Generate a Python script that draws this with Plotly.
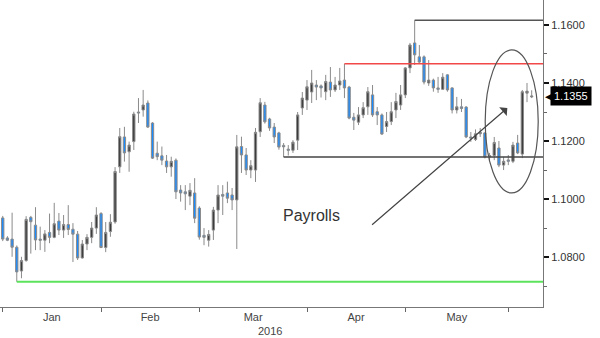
import plotly.graph_objects as go
import pandas as pd

# ---------------- data ----------------
dates = pd.bdate_range("2015-12-31", "2016-06-07")  # weekdays (114 bars)

opens = [1.0935, 1.0866, 1.0862, 1.0834, 1.0752, 1.0788, 1.0937, 1.0910, 1.0862, 1.0858,
         1.0885, 1.0868, 1.0924, 1.0893, 1.0912, 1.0896, 1.0879, 1.0797, 1.0845, 1.0868,
         1.0900, 1.0950, 1.0833, 1.0888, 1.0921, 1.1111, 1.1214, 1.1163, 1.1198, 1.1300,
         1.1307, 1.1331, 1.1262, 1.1158, 1.1149, 1.1131, 1.1111, 1.1134, 1.1031, 1.1025,
         1.1010, 1.1021, 1.0969, 1.0875, 1.0858, 1.0893, 1.0962, 1.1016, 1.1021, 1.1014,
         1.0997, 1.1181, 1.1152, 1.1100, 1.1100, 1.1232, 1.1324, 1.1276, 1.1248, 1.1228,
         1.1185, 1.1172, 1.1168, 1.1203, 1.1314, 1.1341, 1.1369, 1.1393, 1.1390, 1.1370,
         1.1403, 1.1376, 1.1393, 1.1410, 1.1386, 1.1282, 1.1265, 1.1290, 1.1318, 1.1359,
         1.1301, 1.1290, 1.1250, 1.1267, 1.1307, 1.1324, 1.1359, 1.1452, 1.1538, 1.1490,
         1.1490, 1.1400, 1.1410, 1.1383, 1.1378, 1.1428, 1.1383, 1.1307, 1.1318, 1.1317,
         1.1214, 1.1205, 1.1225, 1.1228, 1.1145, 1.1150, 1.1176, 1.1117, 1.1135, 1.1130,
         1.1193, 1.1155, 1.1365, 1.1352]
highs = [1.0942, 1.0872, 1.0953, 1.0840, 1.0801, 1.0941, 1.0942, 1.0972, 1.0905, 1.0893,
         1.0950, 1.0987, 1.0952, 1.0945, 1.0979, 1.0917, 1.0890, 1.0859, 1.0879, 1.0921,
         1.0972, 1.0955, 1.0921, 1.0948, 1.1110, 1.1245, 1.1249, 1.1198, 1.1301, 1.1348,
         1.1376, 1.1340, 1.1265, 1.1198, 1.1181, 1.1152, 1.1146, 1.1140, 1.1048, 1.1048,
         1.1055, 1.1072, 1.0975, 1.0900, 1.0893, 1.0973, 1.1048, 1.1048, 1.1060, 1.1038,
         1.1221, 1.1215, 1.1176, 1.1134, 1.1245, 1.1348, 1.1335, 1.1280, 1.1262, 1.1232,
         1.1193, 1.1186, 1.1203, 1.1300, 1.1369, 1.1410, 1.1445, 1.1410, 1.1395, 1.1428,
         1.1455, 1.1421, 1.1452, 1.1466, 1.1390, 1.1297, 1.1317, 1.1334, 1.1386, 1.1393,
         1.1317, 1.1295, 1.1300, 1.1334, 1.1366, 1.1393, 1.1455, 1.1538, 1.1616, 1.1531,
         1.1495, 1.1479, 1.1415, 1.1421, 1.1434, 1.1430, 1.1385, 1.1352, 1.1345, 1.1320,
         1.1231, 1.1240, 1.1245, 1.1230, 1.1159, 1.1214, 1.1200, 1.1145, 1.1152, 1.1197,
         1.1221, 1.1376, 1.1400, 1.1375]
lows = [1.0855, 1.0855, 1.0801, 1.0715, 1.0727, 1.0784, 1.0812, 1.0824, 1.0824, 1.0818,
        1.0848, 1.0865, 1.0876, 1.0866, 1.0876, 1.0783, 1.0790, 1.0795, 1.0824, 1.0848,
        1.0880, 1.0831, 1.0817, 1.0870, 1.0915, 1.1090, 1.1129, 1.1094, 1.1169, 1.1262,
        1.1284, 1.1245, 1.1138, 1.1134, 1.1117, 1.1090, 1.1077, 1.1000, 1.0991, 1.0962,
        1.0979, 1.0917, 1.0860, 1.0841, 1.0836, 1.0859, 1.0917, 1.0945, 1.0986, 1.0962,
        1.0828, 1.1090, 1.1083, 1.1072, 1.1059, 1.1214, 1.1260, 1.1235, 1.1193, 1.1170,
        1.1145, 1.1150, 1.1159, 1.1169, 1.1290, 1.1307, 1.1331, 1.1341, 1.1350, 1.1341,
        1.1352, 1.1369, 1.1376, 1.1348, 1.1275, 1.1238, 1.1255, 1.1279, 1.1290, 1.1283,
        1.1255, 1.1221, 1.1231, 1.1255, 1.1279, 1.1307, 1.1348, 1.1434, 1.1462, 1.1469,
        1.1395, 1.1390, 1.1370, 1.1366, 1.1376, 1.1370, 1.1295, 1.1295, 1.1300, 1.1210,
        1.1197, 1.1200, 1.1214, 1.1140, 1.1134, 1.1134, 1.1110, 1.1100, 1.1117, 1.1124,
        1.1155, 1.1141, 1.1334, 1.1348]
closes = [1.0862, 1.0858, 1.0834, 1.0749, 1.0788, 1.0930, 1.0922, 1.0859, 1.0858, 1.0880,
          1.0868, 1.0915, 1.0893, 1.0912, 1.0895, 1.0879, 1.0797, 1.0845, 1.0868, 1.0900,
          1.0945, 1.0833, 1.0885, 1.0920, 1.1095, 1.1215, 1.1159, 1.1186, 1.1293, 1.1297,
          1.1324, 1.1248, 1.1141, 1.1146, 1.1134, 1.1111, 1.1130, 1.1025, 1.1021, 1.1018,
          1.1030, 1.0934, 1.0869, 1.0868, 1.0878, 1.0962, 1.1014, 1.1010, 1.1003, 1.0997,
          1.1180, 1.1152, 1.1100, 1.1115, 1.1230, 1.1332, 1.1266, 1.1245, 1.1214, 1.1179,
          1.1180, 1.1168, 1.1196, 1.1290, 1.1348, 1.1387, 1.1400, 1.1386, 1.1383, 1.1405,
          1.1376, 1.1393, 1.1407, 1.1383, 1.1279, 1.1272, 1.1290, 1.1315, 1.1370, 1.1290,
          1.1290, 1.1224, 1.1267, 1.1301, 1.1336, 1.1359, 1.1452, 1.1531, 1.1497, 1.1472,
          1.1403, 1.1410, 1.1383, 1.1378, 1.1420, 1.1376, 1.1307, 1.1318, 1.1312, 1.1214,
          1.1210, 1.1225, 1.1230, 1.1145, 1.1150, 1.1195, 1.1117, 1.1130, 1.1130, 1.1186,
          1.1159, 1.1370, 1.1372, 1.1355]

# reference levels drawn on the chart: (start date, level, colour)
levels = [("2016-01-05", 1.0715, "#5be35b"),
          ("2016-03-24", 1.1145, "#444444"),
          ("2016-04-12", 1.1466, "#f24848"),
          ("2016-05-03", 1.1616, "#555555")]
last_price = 1.1355
y_ticks = [1.08, 1.10, 1.12, 1.14, 1.16]
y_minor = [1.07, 1.09, 1.11, 1.13, 1.15]
month_names = ["Jan", "Feb", "Mar", "Apr", "May"]
Y_RANGE = [1.0628, 1.1686]

# ---------------- helpers (axis positions) ----------------
half = pd.Timedelta(hours=12)
xs = dates + half  # bar centres
axis_days = pd.bdate_range("2015-12-31", "2016-06-30")


def idx_to_time(f):
    i = int(f // 1)
    frac = min(f - i, 0.49)
    return axis_days[i] + half + pd.Timedelta(days=frac)


# month boundaries: centre of last bar of each month
last_idx = []
for m in [12, 1, 2, 3, 4, 5]:
    sel = [i for i, d in enumerate(dates) if d.month == m]
    last_idx.append(sel[-1])
boundary_vals = [xs[i] for i in last_idx]
label_vals = [idx_to_time((last_idx[j] + last_idx[j + 1]) / 2) for j in range(5)]

x_end = axis_days[115] + half + pd.Timedelta(hours=10)
x_start = dates[0] + half - pd.Timedelta(hours=14)

fig = go.Figure()
fig.add_trace(go.Candlestick(
    x=xs, open=opens, high=highs, low=lows, close=closes,
    increasing=dict(line=dict(color="#8a8a8a", width=1), fillcolor="#3c3c3c"),
    decreasing=dict(line=dict(color="#8a8a8a", width=1), fillcolor="#1a8cff"),
    whiskerwidth=0, showlegend=False, hoverinfo="skip"))

for start, lvl, col in levels:
    fig.add_shape(type="line", xref="x", yref="y",
                  x0=pd.Timestamp(start) + half, x1=x_end, y0=lvl, y1=lvl,
                  line=dict(color=col, width=2 if col == "#5be35b" else 1.5))

# ellipse around the payrolls move
fig.add_shape(type="circle", xref="x", yref="y",
              x0="2016-05-24 13:40", x1="2016-06-08 21:30", y0=1.1021, y1=1.1514,
              line=dict(color="#555555", width=1.2))

# arrow + label
fig.add_annotation(x="2016-05-31 07:00", y=1.1314, ax="2016-04-20 02:00", ay=1.0907,
                   xref="x", yref="y", axref="x", ayref="y", text="",
                   showarrow=True, arrowhead=1, arrowsize=1.6, arrowwidth=1.2,
                   arrowcolor="#444444")
fig.add_annotation(x="2016-04-01 11:30", y=1.0945, xref="x", yref="y", text="Payrolls",
                   showarrow=False, font=dict(family="Liberation Sans, Arial", size=16,
                                              color="#333333"))

# last price tag
fig.add_annotation(x=1, y=last_price, xref="paper", yref="y", xanchor="left",
                   xshift=7, text=f"{last_price:.4f}", showarrow=False,
                   bgcolor="#000000", borderpad=3,
                   font=dict(family="Liberation Sans, Arial", size=11, color="#ffffff"))
fig.add_annotation(x=1, y=last_price, xref="paper", yref="y", xanchor="left",
                   xshift=0, text="\u25C0", showarrow=False,
                   font=dict(family="DejaVu Sans", size=11, color="#000000"))

# year label
fig.add_annotation(x=0.497, y=0, xref="paper", yref="paper", yanchor="top", yshift=-16,
                   text="2016", showarrow=False,
                   font=dict(family="Liberation Sans, Arial", size=11, color="#444444"))

fig.update_layout(
    width=600, height=338,
    margin=dict(l=0, r=57, t=0, b=31),
    paper_bgcolor="white", plot_bgcolor="white",
    showlegend=False,
    font=dict(family="Liberation Sans, Arial", size=11, color="#444444"),
    xaxis=dict(
        type="date", range=[x_start, x_end],
        rangebreaks=[dict(bounds=["sat", "mon"])],
        rangeslider=dict(visible=False),
        showgrid=False, zeroline=False,
        showline=True, linecolor="#777777", linewidth=1,
        tickmode="array", tickvals=label_vals, ticktext=month_names,
        ticks="", tickfont=dict(size=11, color="#444444"),
        minor=dict(tickmode="array", tickvals=boundary_vals, ticks="outside",
                   ticklen=4, tickwidth=1, tickcolor="#666666", showgrid=False),
    ),
    yaxis=dict(
        side="right", range=Y_RANGE,
        showgrid=False, zeroline=False,
        showline=True, linecolor="#777777", linewidth=1,
        tickmode="array", tickvals=y_ticks, tickformat=".4f",
        ticks="outside", ticklen=5, tickwidth=2, tickcolor="#111111",
        tickfont=dict(size=11, color="#333333"),
        minor=dict(tickmode="array", tickvals=y_minor, ticks="outside",
                   ticklen=3, tickwidth=1, tickcolor="#666666", showgrid=False),
    ),
)

fig.write_html("out.html")
